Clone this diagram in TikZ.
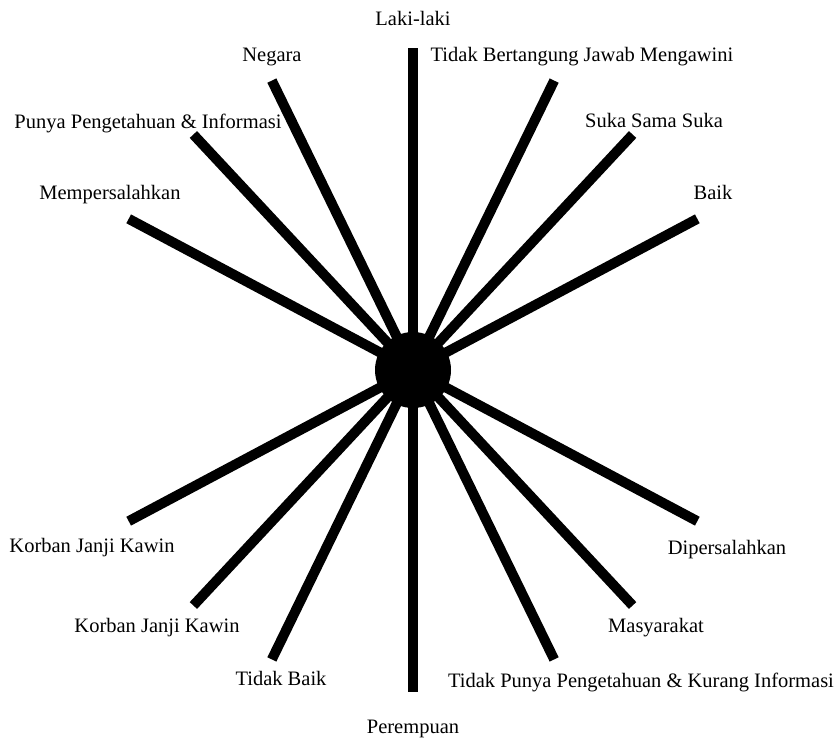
\documentclass[tikz,border=0pt]{standalone}
\usepackage{fontspec}
\setmainfont{Liberation Serif}
\usepackage{tikz}

\tikzset{
  spoke/.style={line width=10pt, black},
  lbl/.style={anchor=base, inner sep=0pt, font=\fontsize{20.5}{23}\selectfont}
}

\begin{document}
\begin{tikzpicture}[x=1pt, y=-1pt]
\useasboundingbox (0,0) rectangle (837,739);

\coordinate (mid) at (413,370);

% spokes
\foreach \ang/\nm in {90/up, 116/negara, 133/punya, 152/mempersalahkan,
                      64/tidakjawab, 47/suka, 28/baik,
                      270/down, 244/tidakbaik, 227/korbanb, 208/korbana,
                      296/tidakpunya, 313/masyarakat, 332/dipersalahkan}{
  \coordinate (\nm) at ([shift={(\ang:322pt)}]mid);
  \draw[spoke] (mid) -- (\nm);
}
\node[circle, fill=black, minimum size=76pt, inner sep=0pt] (hub) at (mid) {};

% labels
\node[lbl] (lakilaki) at (413,25) {Laki-laki};
\node[lbl] (lnegara) at (272,61) {Negara};
\node[lbl] (ltidakjawab) at (582,61) {Tidak Bertangung Jawab Mengawini};
\node[lbl] (lpunya) at (148,128) {Punya Pengetahuan \& Informasi};
\node[lbl] (lsuka) at (654,127) {Suka Sama Suka};
\node[lbl] (lmempersalahkan) at (110,199) {Mempersalahkan};
\node[lbl] (lbaik) at (713,199) {Baik};
\node[lbl] (lkorbana) at (92,552) {Korban Janji Kawin};
\node[lbl] (ldipersalahkan) at (727,554) {Dipersalahkan};
\node[lbl] (lkorbanb) at (157,632) {Korban Janji Kawin};
\node[lbl] (lmasyarakat) at (656,632) {Masyarakat};
\node[lbl] (ltidakbaik) at (281,685) {Tidak Baik};
\node[lbl] (ltidakpunya) at (641,687) {Tidak Punya Pengetahuan \& Kurang Informasi};
\node[lbl] (perempuan) at (413,733) {Perempuan};
\end{tikzpicture}
\end{document}
